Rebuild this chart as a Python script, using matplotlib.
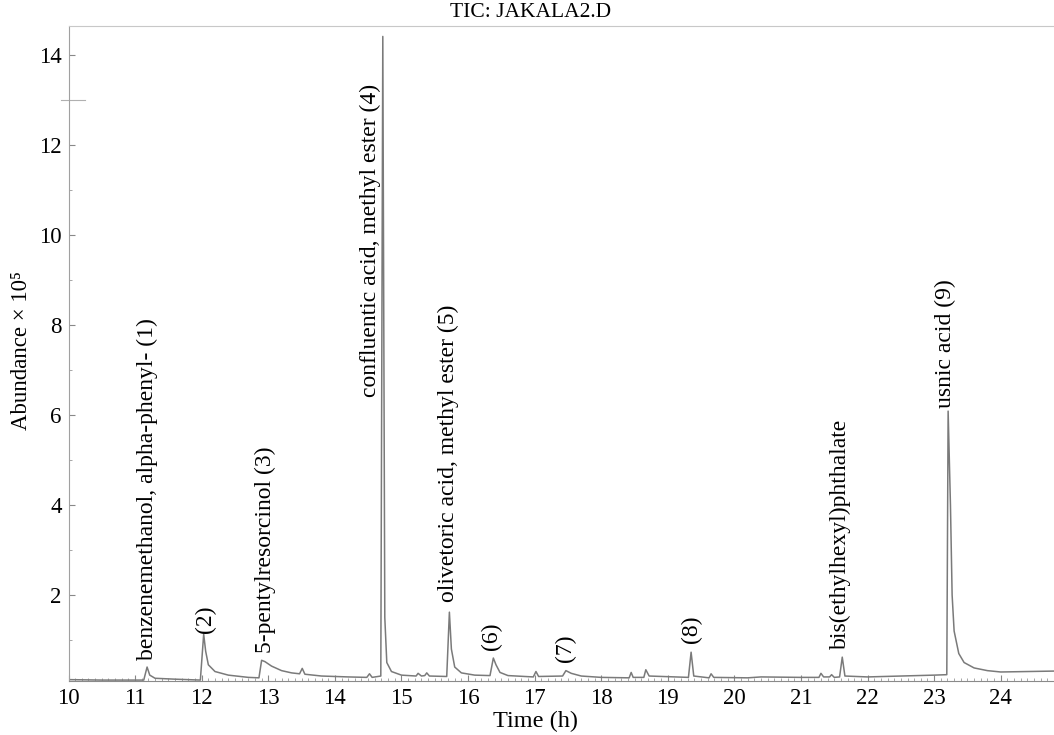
import numpy as np
import matplotlib
matplotlib.use("Agg")
import matplotlib.pyplot as plt
from matplotlib.ticker import MultipleLocator

plt.rcParams['font.family'] = ['Liberation Serif', 'DejaVu Serif']

# TIC trace (time in h, abundance x 1e5)
time = [10.00, 10.50, 11.00, 11.13, 11.18, 11.22, 11.30, 11.60, 11.98, 12.03,
        12.06, 12.10, 12.20, 12.40, 12.70, 12.86, 12.90, 12.95, 13.05, 13.20,
        13.35, 13.47, 13.51, 13.55, 13.80, 14.20, 14.48, 14.52, 14.56, 14.69,
        14.72, 14.75, 14.78, 14.85, 15.00, 15.22, 15.25, 15.30, 15.35, 15.38,
        15.42, 15.68, 15.72, 15.75, 15.80, 15.90, 16.10, 16.33, 16.38, 16.42,
        16.48, 16.60, 16.98, 17.02, 17.06, 17.42, 17.47, 17.55, 17.70, 18.00,
        18.42, 18.45, 18.48, 18.64, 18.67, 18.72, 19.31, 19.35, 19.39, 19.62,
        19.65, 19.69, 20.20, 20.40, 21.00, 21.27, 21.30, 21.34, 21.43, 21.46,
        21.50, 21.58, 21.62, 21.66, 22.00, 22.50, 23.00, 23.19, 23.21, 23.245,
        23.27, 23.30, 23.37, 23.45, 23.60, 23.80, 24.00, 24.40, 24.80]
abundance = [0.12, 0.11, 0.11, 0.11, 0.40, 0.22, 0.15, 0.13, 0.11, 1.13,
             0.75, 0.45, 0.30, 0.22, 0.17, 0.16, 0.55, 0.52, 0.42, 0.32,
             0.27, 0.25, 0.37, 0.24, 0.20, 0.18, 0.17, 0.25, 0.17, 0.20,
             14.42, 1.50, 0.50, 0.30, 0.22, 0.20, 0.26, 0.20, 0.21, 0.27,
             0.20, 0.19, 1.62, 0.80, 0.40, 0.27, 0.22, 0.21, 0.60, 0.45,
             0.28, 0.21, 0.18, 0.30, 0.19, 0.20, 0.32, 0.26, 0.20, 0.17,
             0.16, 0.28, 0.17, 0.17, 0.34, 0.20, 0.17, 0.73, 0.20, 0.16,
             0.25, 0.17, 0.16, 0.18, 0.17, 0.17, 0.26, 0.18, 0.18, 0.23,
             0.17, 0.18, 0.62, 0.20, 0.18, 0.20, 0.22, 0.23, 6.09, 4.00,
             2.00, 1.20, 0.70, 0.50, 0.38, 0.32, 0.29, 0.30, 0.31]

# peak labels: text, x position, y of text start
labels = ["benzenemethanol, alpha-phenyl- (1)", "(2)", "5-pentylresorcinol (3)",
          "confluentic acid, methyl ester (4)", "olivetoric acid, methyl ester (5)",
          "(6)", "(7)", "(8)", "bis(ethylhexyl)phthalate", "usnic acid (9)"]
label_x = [11.19, 12.05, 12.95, 14.53, 15.71, 16.35, 17.46, 19.35, 21.59, 23.17]
label_y = [0.55, 1.15, 0.71, 6.40, 1.84, 0.78, 0.51, 0.93, 0.80, 6.16]

fig = plt.figure(figsize=(10.54, 7.35), dpi=100)
ax = fig.add_axes([0.065, 0.0735, 0.935, 0.891])

ax.plot(time, abundance, color='#7a7a7a', lw=1.1)

for t, x, y in zip(labels, label_x, label_y):
    ax.text(x, y, t, rotation=90, ha='center', va='bottom', fontsize=17)

ax.set_xlim(10, 24.8)
ax.set_ylim(0.09, 14.65)
ax.set_xticks(np.arange(10, 25, 1))
ax.set_yticks(np.arange(2, 15, 2))
ax.xaxis.set_minor_locator(MultipleLocator(0.1))
ax.yaxis.set_minor_locator(MultipleLocator(1))
ax.tick_params(axis='both', which='major', direction='in', length=4, width=0.8,
               colors='#888888', labelcolor='black', labelsize=16.5)
ax.tick_params(axis='both', which='minor', direction='in', length=2, width=0.6,
               colors='#999999')
ax.tick_params(axis='x', pad=5)
ax.tick_params(axis='y', pad=5)

ax.spines['right'].set_visible(False)
ax.spines['top'].set_color('#c8c8c8')
ax.spines['left'].set_color('#a0a0a0')
ax.spines['bottom'].set_color('#8a8a8a')

# odd long tick at 13 on the left axis
ax.plot([9.88, 10.25], [13, 13], color='#b0b0b0', lw=0.8, clip_on=False)

ax.set_xlabel("Time (h)", fontsize=17.5)
ax.xaxis.set_label_coords(0.474, -0.046)
ax.set_ylabel("Abundance × 10⁵", fontsize=16.5)
ax.yaxis.set_label_coords(-0.037, 0.505)
fig.text(0.503, 0.983, "TIC: JAKALA2.D", ha='center', va='center', fontsize=15.5)

fig.savefig("out.png", dpi=100)
